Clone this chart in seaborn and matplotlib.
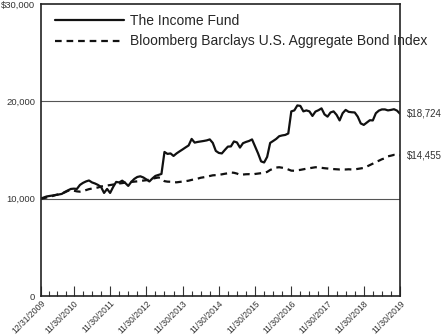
import matplotlib
matplotlib.use("Agg")
import matplotlib.pyplot as plt
import seaborn as sns
import pandas as pd
import numpy as np

# ---------------- data ----------------
tick_labels = ["12/31/2009", "11/30/2010", "11/30/2011", "11/30/2012", "11/30/2013",
               "11/30/2014", "11/30/2015", "11/30/2016", "11/30/2017", "11/30/2018",
               "11/30/2019"]
tick_months = [0, 11, 23, 35, 47, 59, 71, 83, 95, 107, 119]

fund = [10000, 10120, 10230, 10280, 10330, 10380, 10430, 10490, 10690, 10850,
        11000, 11030, 11000, 11410, 11620, 11770, 11870, 11670, 11560, 11410,
        11200, 10590, 11000, 10590, 11200, 11720, 11670, 11850, 11620, 11310,
        11720, 12030, 12230, 12300, 12180, 11980, 11770, 12080, 12340, 12440,
        12540, 14800, 14600, 14650, 14390, 14650, 14860, 15060, 15270, 15470,
        16140, 15760, 15830, 15880, 15930, 15990, 16090, 15730, 14910, 14700,
        14650, 15010, 15350, 15370, 15880, 15780, 15250, 15700, 15830, 15930,
        16090, 15370, 14650, 13830, 13720, 14290, 15730, 15930, 16140, 16420,
        16500, 16550, 16700, 18970, 19070, 19580, 19530, 18970, 19070, 18970,
        18500, 18950, 19090, 19280, 18660, 18430, 18860, 18970, 18610, 18040,
        18780, 19120, 18920, 18880, 18860, 18430, 17730, 17580, 17820, 18060,
        18040, 18780, 19050, 19170, 19170, 19070, 19120, 19190, 19050, 18724]

index = [10000, 10050, 10120, 10200, 10280, 10380, 10450, 10530, 10650, 10800,
         10880, 10820, 10750, 10720, 10760, 10880, 10980, 11040, 11100, 11150,
         11250, 11320, 11350, 11400, 11450, 11500, 11560, 11600, 11650, 11700,
         11720, 11750, 11780, 11820, 11860, 11900, 11950, 12050, 12120, 12180,
         12100, 11800, 11750, 11740, 11700, 11680, 11720, 11760, 11800, 11850,
         11930, 11990, 12060, 12150, 12200, 12250, 12330, 12400, 12420, 12460,
         12500, 12560, 12610, 12690, 12660, 12580, 12450, 12480, 12510, 12520,
         12480, 12540, 12580, 12620, 12660, 12750, 12950, 13080, 13200, 13230,
         13180, 13120, 13000, 12880, 12870, 12920, 12960, 13020, 13080, 13130,
         13180, 13230, 13220, 13170, 13130, 13100, 13060, 13040, 13020, 13000,
         13010, 13000, 13020, 13000, 13010, 13060, 13110, 13160, 13300, 13450,
         13600, 13780, 13900, 14050, 14150, 14350, 14420, 14500, 14480, 14455]

series_names = ["The Income Fund", "Bloomberg Barclays U.S. Aggregate Bond Index"]
end_labels = ["$18,724", "$14,455"]
y_ticks = [0, 10000, 20000, 30000]
y_tick_labels = ["0", "10,000", "20,000", "$30,000"]

# ---------------- plot ----------------
sns.set_style("white")
plt.rcParams["font.family"] = ["Liberation Sans", "DejaVu Sans"]

months = np.arange(len(fund))
df = pd.DataFrame({
    "month": np.concatenate([months, months]),
    "value": fund + index,
    "series": [series_names[0]] * len(fund) + [series_names[1]] * len(index),
})

fig = plt.figure(figsize=(4.42, 3.35), dpi=100)
ax = fig.add_axes([0.092, 0.1164, 0.813, 0.8716])

sns.lineplot(data=df, x="month", y="value", hue="series", style="series",
             palette=["#111111", "#111111"], dashes=[(None, None), (3.0, 2.2)],
             linewidth=1.6, ax=ax, legend=True)

ax.set_xlim(0, 119)
ax.set_ylim(0, 30000)
ax.set_xlabel("")
ax.set_ylabel("")

ax.set_yticks(y_ticks)
ax.set_yticklabels(y_tick_labels, fontsize=6.8, color="#333333")
ax.tick_params(axis="y", length=0, pad=4)

ax.set_xticks(tick_months)
ax.set_xticklabels(tick_labels, rotation=45, ha="right", rotation_mode="anchor",
                   fontsize=6.2, color="#333333")
minor = []
for a, b in zip(tick_months[:-1], tick_months[1:]):
    minor += [a + (b - a) * k / 4 for k in (1, 2, 3)]
ax.set_xticks(minor, minor=True)
ax.tick_params(axis="x", which="major", direction="in", length=7, width=0.8,
               color="#333333", pad=2, bottom=True)
ax.tick_params(axis="x", which="minor", direction="in", length=3.5, width=0.8,
               color="#333333", bottom=True)

for v in (10000, 20000):
    ax.axhline(v, color="#555555", lw=0.8, zorder=0)

for s in ax.spines.values():
    s.set_color("#222222")
    s.set_linewidth(1.2)

for lbl, val in zip(end_labels, [fund[-1], index[-1]]):
    ax.annotate(lbl, xy=(119, val), xytext=(5, 0), textcoords="offset points",
                va="center", ha="left", fontsize=7, color="#333333",
                annotation_clip=False)

leg = ax.legend(loc="upper left", bbox_to_anchor=(0.04, 0.965), frameon=False,
                fontsize=10, handlelength=5.0, handletextpad=0.4,
                labelspacing=0.45, borderpad=0, borderaxespad=0)
for line in leg.get_lines():
    line.set_linewidth(1.6)

fig.savefig("out.png", dpi=100)
